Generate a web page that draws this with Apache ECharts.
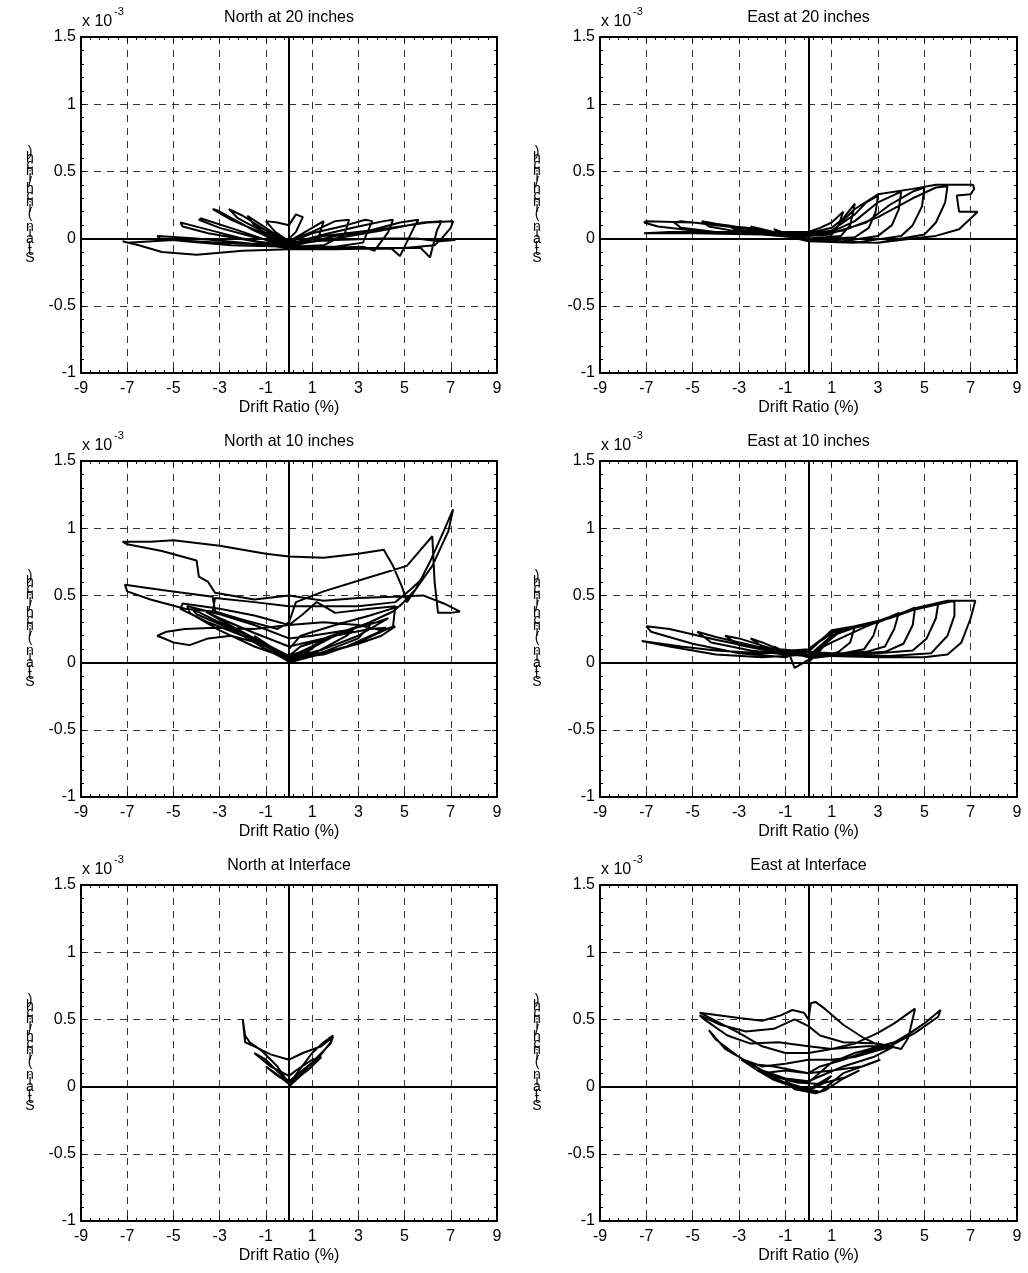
<!DOCTYPE html>
<html><head><meta charset="utf-8">
<script src="https://cdn.jsdelivr.net/npm/echarts@6/dist/echarts.min.js"></script>
<style>html,body{margin:0;padding:0;background:#fff}#c{width:1028px;height:1273px}</style>
</head><body><div id="c"></div>
<script>
// ---- text / ticks ----
const titles = ['North at 20 inches','East at 20 inches','North at 10 inches','East at 10 inches','North at Interface','East at Interface'];
const xAxisTitle = 'Drift Ratio (%)';
const yAxisTitle = 'Strain (inch/inch)';
const yScaleBase = 'x 10';
const yScaleExp = '-3';
const xMin = -9, xMax = 9, xStep = 2;
const yMin = -1, yMax = 1.5, yStep = 0.5;

// ---- data: [drift %, strain x1e-3] ----
const north20 = [
[0,0],[0.3,0.05],[0.6,0.16],[0.3,0.18],[0,0.1],[-0.5,0.12],[-1,0.13],[-0.6,0.05],[0,-0.02],
[0.8,0.06],[1.5,0.13],[1.3,0.02],[0.5,-0.04],[0,-0.04],[-1,0.08],[-1.8,0.17],[-1.5,0.1],[-0.5,0.02],[0,-0.02],
[1,0.05],[2,0.13],[2.6,0.14],[2.4,0.03],[1.5,-0.05],[0,-0.06],[-1,0.06],[-2,0.17],[-2.6,0.22],[-2.2,0.15],[-1,0.04],[0,-0.03],
[1,0.04],[2.5,0.1],[3.3,0.14],[3.6,0.13],[3.2,-0.03],[2,-0.06],[0,-0.06],[-1.5,0.06],[-3.1,0.21],[-3.3,0.22],[-2.5,0.14],[-1,0.03],[0,-0.04],
[1.5,0.03],[3,0.09],[4.1,0.13],[4.5,0.14],[4.3,0.05],[3.7,-0.09],[3.2,-0.06],[1.5,-0.07],[0,-0.07],[-2,0.05],[-3.8,0.15],[-3.9,0.14],[-3,0.08],[-1.5,0.01],[0,-0.04],
[1.5,0.02],[3.5,0.06],[4.8,0.12],[5.6,0.14],[5.4,0.08],[4.8,-0.13],[4.4,-0.07],[2.5,-0.07],[0,-0.07],[-2,0.0],[-3.8,0.08],[-4.7,0.12],[-4.6,0.09],[-3.5,0.04],[-1.5,-0.02],[0,-0.05],
[2,0.0],[4,0.06],[5.8,0.12],[6.6,0.13],[6.4,0.06],[6.1,-0.14],[5.7,-0.07],[3.5,-0.07],[0,-0.07],[-2,-0.03],[-4,0.0],[-5.7,0.02],[-5.6,0.0],[-4.5,-0.02],[-2.5,-0.05],[0,-0.06],
[2,0.02],[4,0.07],[6,0.12],[7.1,0.13],[7.0,0.08],[6.6,0.0],[6.3,-0.05],[5,-0.07],[2,-0.08],[0,-0.08],[-2,-0.09],[-4,-0.12],[-5.5,-0.1],[-6.5,-0.05],[-7.2,-0.02],[-7.0,-0.03],[-5,-0.01],[-3,-0.03],[-1,-0.04],[0,-0.03],[2,-0.01],[4,0.0],[5.5,0.0],[6.5,-0.02],[7.2,-0.01]
];
const east20 = [
[0,0.05],[0.5,0.08],[1,0.12],[1.5,0.2],[1.3,0.1],[1,0.03],[0,0.02],[-1,0.04],[-1.5,0.07],[-1.2,0.05],[0,0.04],
[1,0.08],[1.5,0.15],[2,0.26],[1.8,0.1],[1.4,0.02],[0,0.0],[-1.5,0.05],[-2.5,0.09],[-2,0.06],[-1,0.04],[0,0.03],
[1,0.06],[2,0.18],[2.5,0.27],[3,0.32],[2.9,0.2],[2.6,0.08],[2,0.01],[0,-0.01],[-2,0.05],[-3.5,0.1],[-3.2,0.07],[-2,0.04],[0,0.02],
[1,0.05],[2,0.13],[3,0.27],[4,0.35],[3.9,0.22],[3.6,0.1],[3,0.02],[1.5,-0.02],[0,-0.01],[-2,0.06],[-4,0.11],[-4.6,0.13],[-4.3,0.09],[-3,0.05],[-1,0.03],[0,0.03],
[1,0.04],[2.5,0.12],[3.5,0.25],[4.5,0.35],[5,0.38],[4.9,0.24],[4.5,0.1],[4,0.02],[2,-0.03],[0,-0.02],[-2,0.06],[-4,0.1],[-5.5,0.13],[-5.8,0.12],[-5.5,0.08],[-4,0.05],[-2,0.03],[0,0.02],
[1.5,0.06],[3,0.16],[4.5,0.3],[5.5,0.38],[6,0.39],[5.9,0.27],[5.5,0.12],[5,0.03],[3,-0.03],[0,-0.02],[-2,0.07],[-5,0.12],[-7,0.13],[-7.1,0.12],[-6.5,0.09],[-5,0.06],[-3,0.04],[0,0.03],
[1,0.05],[2,0.22],[3,0.33],[4.5,0.37],[5.5,0.4],[7.1,0.4],[7.15,0.37],[7,0.33],[6.4,0.32],[6.5,0.2],[7.3,0.2],[7,0.15],[6.5,0.07],[5.5,0.02],[4.5,0.0],[3,-0.03],[1,-0.02],[0,0.0],[-2,0.03],[-5,0.04],[-7.1,0.04],[-6,0.05],[-4,0.05],[-2,0.05],[0,0.05]
];
const north10 = [
[0,0],[0.8,0.08],[1.5,0.17],[1,0.12],[0,0.04],[-0.8,0.12],[-1.5,0.2],[-1,0.12],[0,0.02],
[1.2,0.08],[2.5,0.2],[2.8,0.25],[2,0.2],[0.5,0.08],[0,0.05],[-1.2,0.15],[-2.5,0.27],[-2.8,0.3],[-2,0.22],[-0.8,0.1],[0,0.02],
[1,0.05],[2.5,0.12],[3.8,0.22],[4.2,0.26],[3.5,0.25],[2,0.2],[0.5,0.12],[0,0.05],[-1.5,0.18],[-3,0.3],[-4.2,0.4],[-4,0.36],[-2.5,0.25],[-1,0.1],[0,0.01],
[1.5,0.08],[3,0.18],[3.6,0.3],[3,0.27],[1.5,0.18],[0,0.12],[-1.5,0.22],[-3,0.33],[-3.6,0.38],[-3,0.32],[-1.5,0.18],[0,0.03],
[1.5,0.1],[3,0.2],[4.3,0.33],[3.8,0.3],[2.5,0.24],[1,0.2],[0,0.18],[-1.5,0.28],[-3,0.36],[-4.4,0.42],[-4.3,0.37],[-3,0.24],[-1.5,0.12],[0,0.03],
[1.5,0.06],[3,0.15],[4.5,0.27],[4.6,0.42],[3.5,0.4],[2,0.37],[1.2,0.45],[0.6,0.36],[0,0.28],[-1.5,0.35],[-3,0.4],[-4.6,0.44],[-4.7,0.4],[-3.5,0.3],[-2,0.2],[-0.5,0.08],[0,0],
[1.5,0.07],[3,0.14],[4,0.2],[4.6,0.27],[4,0.24],[3,0.28],[1.5,0.3],[0,0.28],[-1.5,0.25],[-3.2,0.26],[-4.5,0.25],[-5.3,0.23],[-5.7,0.2],[-5,0.15],[-4.3,0.13],[-3.5,0.18],[-2.5,0.2],[-1,0.13],[0,0.02],
[2,0.2],[3.5,0.3],[4.5,0.38],[5.3,0.5],[5.8,0.63],[5.3,0.55],[4.6,0.45],[3,0.42],[1,0.42],[0,0.42],[-1.5,0.45],[-3.2,0.48],[-3.3,0.38],[-4.5,0.4],[-6,0.47],[-7,0.53],[-7.1,0.58],[-5.5,0.54],[-3.3,0.49],[-3.2,0.38],[-2,0.32],[-0.5,0.25],[0,0.3],
[0.3,0.45],[1.5,0.53],[3.2,0.62],[5.1,0.72],[6.2,0.94],[6.3,0.6],[6.45,0.37],[7.0,0.37],[7.4,0.38],[6.7,0.44],[5.8,0.5],[4.5,0.49],[3,0.48],[1.5,0.46],[0,0.5],[-1.5,0.47],[-3.2,0.52],[-3.5,0.6],[-3.9,0.64],[-4,0.76],[-5.5,0.83],[-7,0.88],[-7.2,0.9],[-6,0.9],[-5,0.91],[-3,0.87],[-1,0.81],[0,0.79],[1.5,0.78],[3,0.81],[4.1,0.84],[4.5,0.72],[4.9,0.56],[5.1,0.45],[5.5,0.55],[6.1,0.75],[6.7,0.98],[7.1,1.14],[6.9,0.98],[6.2,0.72],[5.5,0.55],[4.8,0.42],[3.5,0.35],[2,0.28],[0.5,0.2],[0,0.1]
];
const east10 = [
[0,0],[0.5,0.1],[1,0.2],[1.1,0.24],[0.8,0.15],[0.3,0.05],[0,0.02],[-0.6,-0.04],[-0.8,0.05],[-1.5,0.12],[-1,0.08],[0,0.04],
[1,0.18],[1.5,0.25],[2,0.27],[1.8,0.15],[1.3,0.08],[0.5,0.04],[0,0.05],[-1,0.08],[-2,0.15],[-2.5,0.18],[-2,0.12],[-1,0.06],[0,0.05],
[1,0.2],[2,0.26],[3,0.31],[2.8,0.2],[2.4,0.1],[1.5,0.07],[0,0.06],[-1.5,0.1],[-3,0.18],[-3.6,0.2],[-3,0.13],[-1.5,0.08],[0,0.1],
[1,0.22],[2.5,0.28],[3.5,0.34],[3.9,0.37],[3.7,0.25],[3.3,0.12],[2.5,0.08],[1,0.06],[0,0.08],[-2,0.11],[-4,0.19],[-4.8,0.23],[-4.2,0.15],[-2.5,0.09],[-1,0.06],[0,0.1],
[1.2,0.24],[3,0.3],[4.2,0.38],[4.6,0.41],[4.5,0.28],[4.1,0.14],[3.3,0.08],[1.5,0.06],[0,0.05],[-2,0.1],[-4,0.17],[-6,0.25],[-7,0.27],[-6.8,0.23],[-5,0.14],[-3,0.07],[-1,0.04],[0,0.1],
[1,0.23],[2,0.27],[3.5,0.33],[5,0.42],[5.6,0.44],[5.5,0.33],[5.1,0.18],[4.5,0.09],[3,0.07],[1,0.07],[0,0.08],[-2,0.07],[-4,0.09],[-5.5,0.12],[-7.2,0.16],[-6,0.12],[-4,0.06],[-2,0.04],[0,0.06],
[1,0.15],[2.5,0.27],[4,0.37],[5.5,0.43],[6.3,0.46],[6.3,0.35],[6,0.2],[5.3,0.07],[3.5,0.05],[1.5,0.06],[0,0.08],
[1,0.24],[3,0.3],[4.5,0.4],[6,0.46],[7.2,0.46],[7.0,0.33],[6.6,0.15],[6,0.06],[5,0.04],[3,0.04],[1,0.05],[0,0.03]
];
const northIf = [
[0,0],[0.5,0.08],[1,0.15],[0.6,0.1],[0,0.03],[-0.5,0.08],[-1,0.15],[-0.6,0.1],[0,0.02],[0.8,0.12],[1.4,0.22],[1,0.2],[0.3,0.12],[0,0.08],[-0.8,0.15],[-1.5,0.25],[-1,0.2],[-0.3,0.08],[0,0.04],[1,0.18],[1.8,0.32],[1.9,0.37],[1.4,0.3],[0.6,0.25],[0,0.2],[-0.8,0.24],[-1.5,0.3],[-1.9,0.33],[-2,0.5],[-1.9,0.38],[-1.7,0.33],[-1.2,0.27],[-0.5,0.15],[0,0.02],[1,0.25],[1.5,0.33],[1.9,0.38],[1.8,0.33],[1.3,0.22],[0.5,0.1],[0,0.02]
];
const eastIf = [
[0,-0.02],[0.5,0.03],[1,0.08],[0.6,0.02],[0,-0.03],[-0.5,0],[-1,0.04],[-0.6,-0.02],[0.3,-0.05],[0.7,-0.03],
[1.5,0.06],[2.2,0.12],[1.6,0.07],[0.5,0.02],[-0.5,0.03],[-1.6,0.08],[-2.2,0.12],[-1.5,0.05],[-0.5,-0.01],[0.5,-0.04],
[1.5,0.1],[2.5,0.16],[3.1,0.2],[2.3,0.15],[1,0.12],[0,0.1],[-1.5,0.15],[-2.5,0.17],[-2.9,0.2],[-2.2,0.12],[-1,0.06],[0,0.04],
[1.5,0.15],[2.8,0.22],[3.7,0.3],[3,0.27],[2,0.22],[1,0.2],[0,0.2],[-1,0.17],[-2,0.15],[-2.8,0.2],[-3.6,0.28],[-4.3,0.42],[-4,0.35],[-3,0.22],[-2,0.12],[-1,0.06],[0,0.03],
[1,0.18],[2,0.25],[3.1,0.3],[3.7,0.33],[4.4,0.4],[5,0.47],[5.7,0.57],[5.6,0.52],[4.6,0.4],[3.5,0.3],[2.5,0.3],[1,0.28],[0,0.3],[-1.3,0.33],[-2.5,0.32],[-3.5,0.38],[-4.5,0.5],[-4.7,0.53],[-3.8,0.46],[-2.7,0.41],[-1.5,0.43],[-0.6,0.5],[0,0.45],[0.5,0.38],[1.5,0.33],[3,0.32],[4,0.28],[4.3,0.36],[4.6,0.58],[3.7,0.47],[3,0.4],[2,0.32],[1,0.28],[0,0.25],[-1,0.25],[-2,0.3],[-3,0.4],[-4.7,0.55],[-3,0.51],[-2,0.49],[-1.2,0.53],[-0.7,0.57],[-0.2,0.55],[0,0.5],[0.1,0.62],[0.3,0.63],[0.7,0.58],[1.5,0.46],[2.4,0.36],[3,0.31],[3.5,0.31],[2.5,0.26],[1.5,0.2],[0.5,0.15],[0,0.1],[-1,0.12],[-2,0.1],[-1,0.03],[0,-0.02],[0.5,-0.04]
];
const panels = [north20, east20, north10, east10, northIf, eastIf];

// ---- layout ----
const FONT = '"Liberation Sans", Arial, sans-serif';
const colLeft = [81, 600], colWidth = [416, 417];
const rowTop = [37, 461, 885], plotH = 336;
const yTitleX = [30, 537];

const grids = [], xAxes = [], yAxes = [], series = [], graphics = [];
panels.forEach((data, i) => {
  const c = i % 2, r = Math.floor(i / 2);
  const left = colLeft[c], top = rowTop[r], w = colWidth[c];
  grids.push({left: left, top: top, width: w, height: plotH, containLabel: false});
  const line = {show: true, onZero: false, lineStyle: {color: '#000', width: 2}};
  const tick = {show: true, inside: true, length: 5, lineStyle: {color: '#000', width: 1}};
  const minor = {show: true, splitNumber: 5, length: 3, lineStyle: {color: '#000', width: 1}};
  xAxes.push({
    type: 'value', gridIndex: i, position: 'bottom', min: xMin, max: xMax, interval: xStep,
    axisLine: line, axisTick: tick, minorTick: minor,
    axisLabel: {color: '#000', fontSize: 16, fontFamily: FONT, margin: 8},
    splitLine: {show: true, lineStyle: {color: '#333', width: 1, type: [7, 6]}},
    name: xAxisTitle, nameLocation: 'middle', nameGap: 27,
    nameTextStyle: {color: '#000', fontSize: 16, fontFamily: FONT}
  });
  xAxes.push({
    type: 'value', gridIndex: i, position: 'top', min: xMin, max: xMax, interval: xStep,
    axisLine: line, axisTick: tick, minorTick: minor,
    axisLabel: {show: false}, splitLine: {show: false}
  });
  yAxes.push({
    type: 'value', gridIndex: i, position: 'left', min: yMin, max: yMax, interval: yStep,
    axisLine: line, axisTick: tick, minorTick: minor,
    axisLabel: {color: '#000', fontSize: 16, fontFamily: FONT, margin: 5},
    splitLine: {show: true, lineStyle: {color: '#333', width: 1, type: [7, 6]}}
  });
  yAxes.push({
    type: 'value', gridIndex: i, position: 'right', min: yMin, max: yMax, interval: yStep,
    axisLine: line, axisTick: tick, minorTick: minor,
    axisLabel: {show: false}, splitLine: {show: false}
  });
  series.push({
    type: 'line', xAxisIndex: 2 * i, yAxisIndex: 2 * i, data: data,
    showSymbol: false, symbol: 'none', smooth: false, animation: false,
    lineStyle: {color: '#000', width: 2}, z: 3,
    markLine: {
      silent: true, symbol: 'none', animation: false, label: {show: false},
      lineStyle: {color: '#000', width: 2, type: 'solid'},
      data: [{xAxis: 0}, {yAxis: 0}]
    }
  });
  const cx = left + w / 2;
  graphics.push({type: 'text', x: cx, y: top - 19, style: {text: titles[i], fill: '#000', font: '16px ' + FONT, textAlign: 'center', textVerticalAlign: 'middle'}});
  graphics.push({type: 'text', x: left + 1, y: top - 15, style: {text: yScaleBase, fill: '#000', font: '16px ' + FONT, textAlign: 'left', textVerticalAlign: 'middle'}});
  graphics.push({type: 'text', x: left + 33, y: top - 25, style: {text: yScaleExp, fill: '#000', font: '11px ' + FONT, textAlign: 'left', textVerticalAlign: 'middle'}});
  graphics.push({type: 'text', x: yTitleX[c], y: top + plotH / 2, style: {
    text: yAxisTitle.split('').reverse().join('\n'), fill: '#000', font: '14px ' + FONT,
    textAlign: 'center', textVerticalAlign: 'middle', lineHeight: 6.2}});
});

const chart = echarts.init(document.getElementById('c'), null, {renderer: 'canvas'});
chart.setOption({
  animation: false, backgroundColor: '#fff',
  grid: grids, xAxis: xAxes, yAxis: yAxes, series: series, graphic: graphics
});
</script>
</body></html>
